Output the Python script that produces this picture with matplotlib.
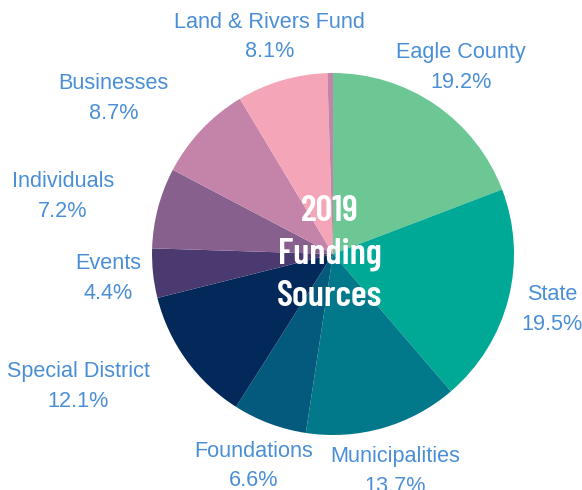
import matplotlib
matplotlib.use("Agg")
import matplotlib.pyplot as plt

names = ["Eagle County", "State", "Municipalities", "Foundations",
         "Special District", "Events", "Individuals", "Businesses",
         "Land & Rivers Fund", ""]
shares = [19.2, 19.5, 13.7, 6.6, 12.1, 4.4, 7.2, 8.7, 8.1, 0.5]
colors = ["#6cc795", "#00a896", "#02798a", "#035a7c", "#02295a",
          "#4a3a70", "#87608e", "#c483a8", "#f4a6b8", "#c483a8"]
# horizontal alignment of each outside label
aligns = ["center", "center", "center", "center", "right",
          "center", "right", "right", "center", "center"]

labels = [f"{n}\n{s}%" if n else "" for n, s in zip(names, shares)]

fig = plt.figure(figsize=(5.82, 4.9), dpi=100)
ax = fig.add_axes([0.2612, 0.1122, 0.622, 0.7388])

wedges, texts = ax.pie(shares, labels=labels, colors=colors, startangle=90,
                       counterclock=False, labeldistance=1.25, radius=1,
                       wedgeprops=dict(linewidth=0),
                       textprops=dict(color="#4a8fd6", fontsize=15.6,
                                      family="Liberation Sans",
                                      linespacing=1.55))
for t, a in zip(texts, aligns):
    t.set_ha(a)
    t.set_multialignment("center")
    t.set_va("center")
    t.set_clip_on(False)

ax.text(-0.02, 0.0, "2019\nFunding\nSources", ha="center", va="center",
        color="white", fontsize=26.5, fontweight=600,
        family=["Barlow Condensed", "DejaVu Sans"], linespacing=1.35)

ax.set_xlim(-1, 1)
ax.set_ylim(-1, 1)
ax.axis("off")

fig.savefig("out.png", dpi=100)
